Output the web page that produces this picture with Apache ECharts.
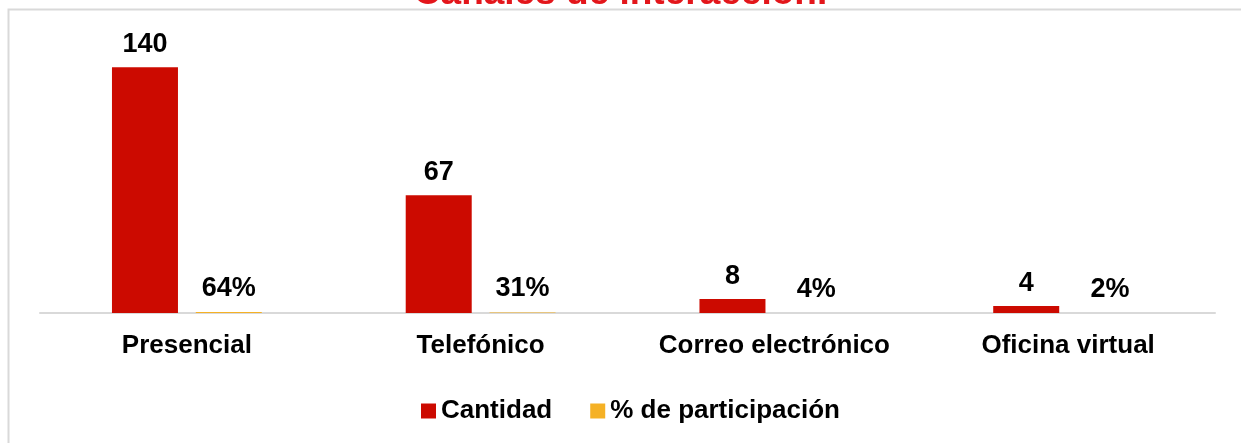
<!DOCTYPE html>
<html>
<head>
<meta charset="utf-8">
<script src="https://cdn.jsdelivr.net/npm/echarts@6/dist/echarts.min.js"></script>
<style>
html,body{margin:0;padding:0;background:#fff;}
#chart{width:1241px;height:443px;}
</style>
</head>
<body>
<div id="chart"></div>
<script>
const categories = ['Presencial', 'Telefónico', 'Correo electrónico', 'Oficina virtual'];
const cantidad = [140, 67, 8, 4];
const participacion = [0.64, 0.31, 0.04, 0.02];
const seriesNames = ['Cantidad', '% de participación'];
const titleText = 'Canales de interacción.';

const chart = echarts.init(document.getElementById('chart'), null, {renderer: 'canvas'});
const font = 'Liberation Sans, Arial, sans-serif';
chart.setOption({
  animation: false,
  backgroundColor: '#fff',
  title: {
    text: titleText,
    left: 'center',
    top: -30,
    textStyle: {color: '#e3161b', fontSize: 37, fontWeight: 'bold', fontFamily: font}
  },
  graphic: [{
    type: 'rect',
    shape: {x: 8.5, y: 9.5, width: 1260, height: 460},
    style: {fill: 'none', stroke: '#d9d9d9', lineWidth: 2},
    silent: true, z: -1
  }],
  legend: {
    data: seriesNames,
    bottom: 14,
    left: 416,
    itemWidth: 15,
    itemHeight: 15,
    itemGap: 38,
    icon: 'rect',
    textStyle: {fontSize: 26, fontWeight: 'bold', color: '#000', fontFamily: font}
  },
  grid: {left: 40, right: 26, top: 32, bottom: 130, containLabel: false},
  xAxis: {
    type: 'category',
    data: categories,
    axisLine: {lineStyle: {color: '#d9d9d9', width: 2}},
    axisTick: {show: false},
    axisLabel: {interval: 0, fontSize: 26, fontWeight: 'bold', color: '#000', margin: 20, fontFamily: font}
  },
  yAxis: {
    type: 'value', min: 0, max: 160,
    show: false,
    splitLine: {show: false}
  },
  series: [{
    name: seriesNames[0],
    type: 'bar',
    data: cantidad,
    barWidth: 66,
    barGap: '27%',
    itemStyle: {color: '#cc0a00'},
    label: {show: true, position: 'top', distance: 9, fontSize: 27, fontWeight: 'bold', color: '#000', fontFamily: font}
  }, {
    name: seriesNames[1],
    type: 'bar',
    data: participacion,
    barWidth: 66,
    itemStyle: {color: '#f5b125'},
    label: {show: true, position: 'top', distance: 10, fontSize: 27, fontWeight: 'bold', color: '#000', fontFamily: font,
      formatter: p => Math.round(p.value * 100) + '%'}
  }]
});
</script>
</body>
</html>
